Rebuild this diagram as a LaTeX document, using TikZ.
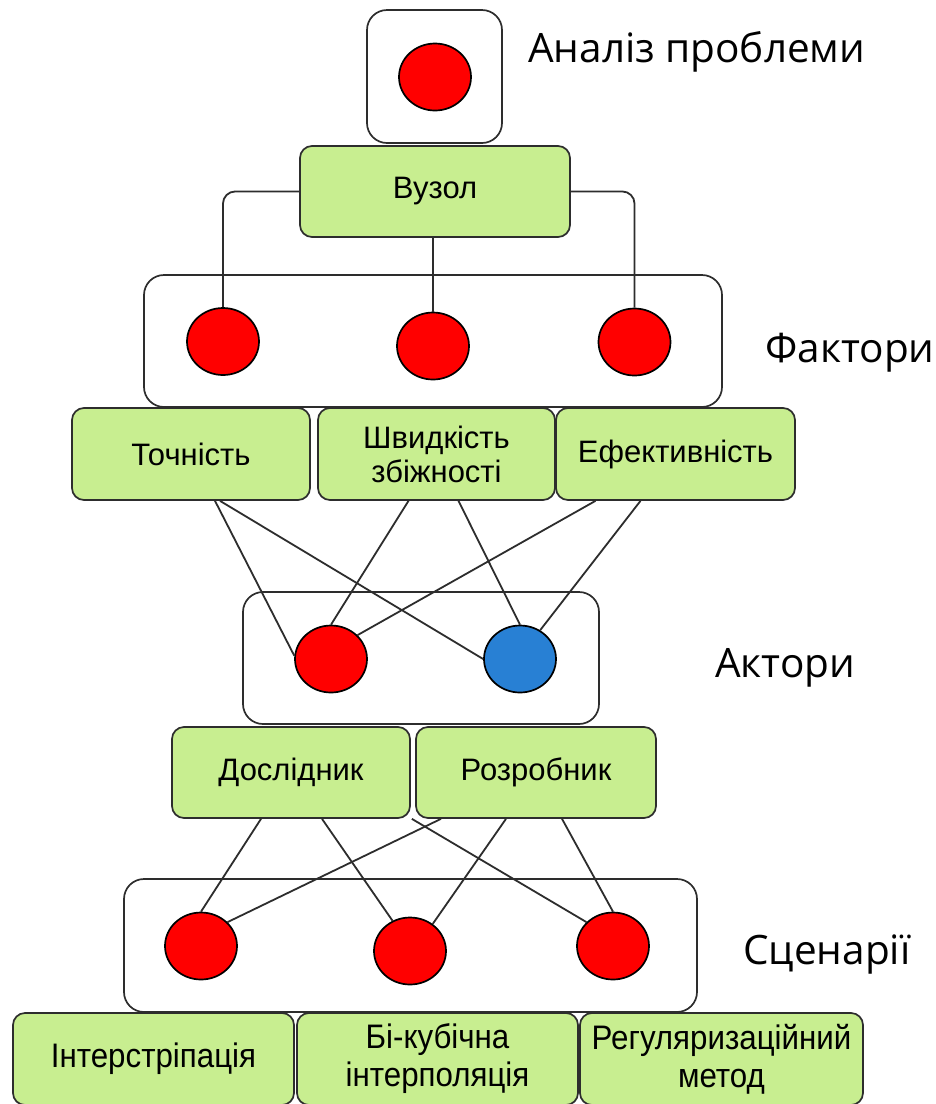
\documentclass[tikz,border=0pt]{standalone}
\usepackage{fontspec}
\setmainfont{Liberation Sans}
\newfontfamily\bigf{Open Sans}
\newfontfamily\narrowf[FakeStretch=0.92]{Liberation Sans}
\usetikzlibrary{shapes.geometric,calc}
\definecolor{gfill}{RGB}{200,238,144}
\definecolor{bl}{RGB}{40,128,212}
\definecolor{ln}{RGB}{45,45,45}
\begin{document}
\begin{tikzpicture}[x=1pt,y=-1pt,
  cont/.style={draw=ln, line width=1.7pt, rounded corners=20pt, fill=white, inner sep=0pt},
  gbox/.style={draw=ln, fill=gfill, line width=1.7pt, rounded corners=12pt, align=center, font=\fontsize{31}{34}\selectfont, inner sep=0pt},
  nbox/.style={gbox, font=\narrowf\fontsize{34}{38}\selectfont},
  dot/.style={ellipse, draw=black, line width=1.7pt, fill=red, minimum width=72pt, minimum height=67pt, inner sep=0pt},
  conn/.style={draw=ln, line width=1.8pt},
  big/.style={font=\bigf\fontsize{40.5}{48}\selectfont, anchor=base west, inner sep=0pt}]
\clip (0,0) rectangle (936,1104);
\fill[white] (0,0) rectangle (936,1104);
% containers
\node[cont, minimum width=135pt, minimum height=133pt] (topbox) at (434.5,76.5) {};
\node[cont, minimum width=578pt, minimum height=132pt] (fbox) at (433,341) {};
\node[cont, minimum width=356pt, minimum height=132pt] (abox) at (421,658) {};
\node[cont, minimum width=573pt, minimum height=133pt] (sbox) at (410.5,945.5) {};
% dots
\node[dot] (topdot) at (435,77) {};
\node[dot] (f1) at (223,341.5) {};
\node[dot] (f2) at (433,346) {};
\node[dot] (f3) at (634.5,342) {};
\node[dot] (ra) at (331,659) {};
\node[dot, fill=bl] (ba) at (520,659) {};
\node[dot] (s1) at (201,946) {};
\node[dot] (s2) at (410,951) {};
\node[dot] (s3) at (613,946) {};
% green boxes
\node[gbox, minimum width=270pt, minimum height=91pt] (vuzol) at (435,191.5) {Вузол};
\node[gbox, minimum width=238pt, minimum height=92pt] (toch) at (191,454) {Точність};
\node[gbox, minimum width=237pt, minimum height=92pt] (shv) at (436.5,454) {Швидкість\\збіжності};
\node[gbox, minimum width=239pt, minimum height=92pt] (efe) at (675.5,454) {Ефективність};
\node[gbox, minimum width=238pt, minimum height=91pt] (dosl) at (291,772.5) {Дослідник};
\node[gbox, minimum width=240pt, minimum height=91pt] (rozr) at (536,772.5) {Розробник};
\node[nbox, minimum width=281pt, minimum height=92pt] (b1) at (153.5,1059) {Інтерстріпація};
\node[nbox, minimum width=281pt, minimum height=92pt] (b2) at (437.5,1059) {Бі-кубічна\\інтерполяція};
\node[nbox, minimum width=283pt, minimum height=92pt] (b3) at (721.5,1059) {Регуляризаційний\\метод};
% labels
\node[big] (l1) at (528,62) {Аналіз проблеми};
\node[big] (l2) at (765,362) {Фактори};
\node[big] (l3) at (715,677) {Актори};
\node[big] (l4) at (743,964) {Сценарії};
% connectors
\draw[conn, rounded corners=12pt] (vuzol.west) -| (f1.north);
\draw[conn] (f2.north |- vuzol.south) -- (f2.north);
\draw[conn, rounded corners=12pt] (vuzol.east) -| (f3.north);
\draw[conn] ([xshift=24pt]toch.south) -- (ra.175);
\draw[conn] ([xshift=29pt]toch.south) -- (ba.west);
\draw[conn] ([xshift=-28pt]shv.south) -- (ra.north);
\draw[conn] ([xshift=22pt]shv.south) -- (ba.north);
\draw[conn] ([xshift=-80pt]efe.south) -- (ra.42);
\draw[conn] ([xshift=-35pt]efe.south) -- (ba.55);
\draw[conn] ([xshift=-30pt]dosl.south) -- (s1.north);
\draw[conn] ([xshift=31pt]dosl.south) -- (s2.120);
\draw[conn] ([xshift=1pt]dosl.south east) -- (s3.138);
\draw[conn] ([xshift=-95pt]rozr.south) -- (s1.42);
\draw[conn] ([xshift=-30pt]rozr.south) -- (s2.50);
\draw[conn] ([xshift=26pt]rozr.south) -- (s3.north);
\end{tikzpicture}
\end{document}
